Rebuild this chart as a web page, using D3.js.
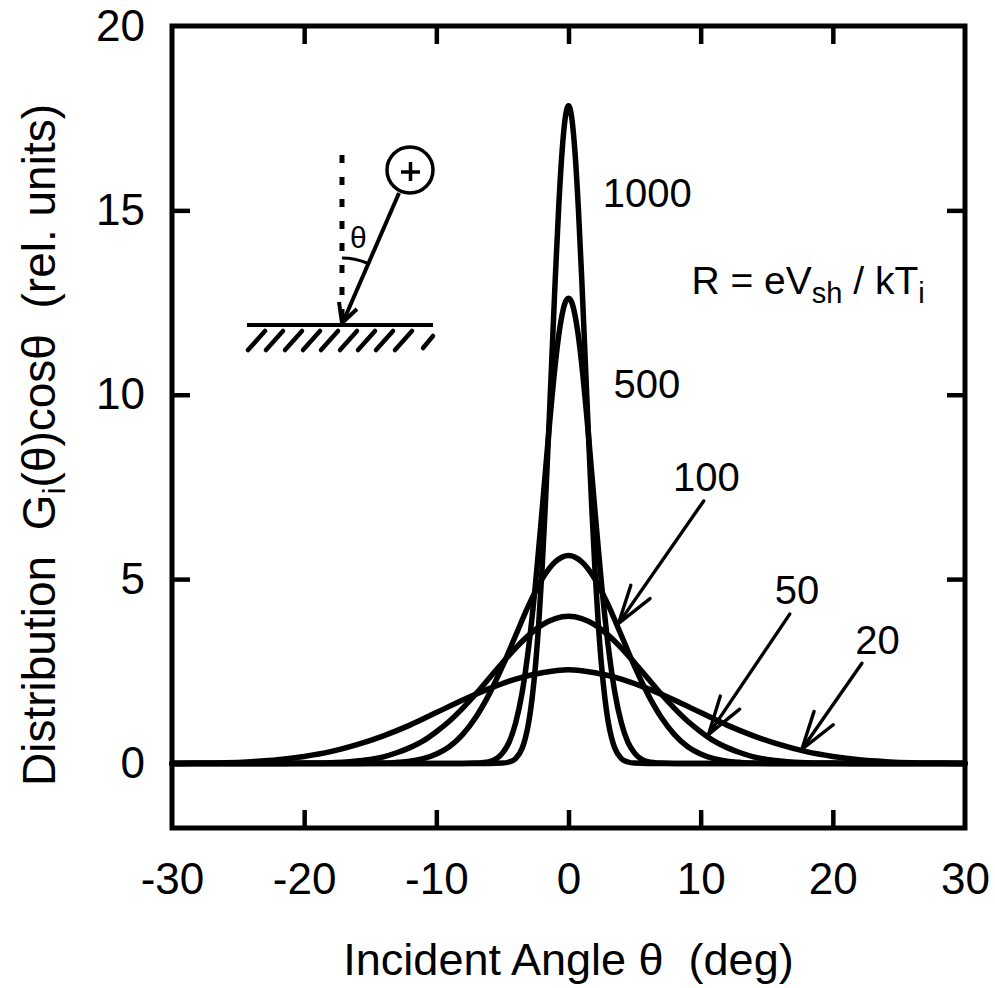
<!DOCTYPE html>
<html>
<head>
<meta charset="utf-8">
<script src="https://cdn.jsdelivr.net/npm/d3@7"></script>
<style>
  html, body { margin: 0; padding: 0; background: #fff; }
  svg { display: block; }
  text { font-family: "Liberation Sans", Arial, Helvetica, sans-serif; fill: #000; }
</style>
</head>
<body>
<div id="chart"></div>
<script>
// ---------------- data ----------------
const xTickValues = [-30, -20, -10, 0, 10, 20, 30];
const yTickValues = [0, 5, 10, 15, 20];

const theta1000 = [-30, -6, -5, -4.5, -4, -3.5, -3.25, -3, -2.75, -2.5, -2.25, -2, -1.75, -1.5, -1.25, -1, -0.75, -0.5, -0.25,
  0, 0.25, 0.5, 0.75, 1, 1.25, 1.5, 1.75, 2, 2.25, 2.5, 2.75, 3, 3.25, 3.5, 4, 4.5, 5, 6, 30];
const g1000 = [0, 0, 0.01, 0.04, 0.13, 0.42, 0.71, 1.14, 1.78, 2.65, 3.81, 5.27, 7.02, 8.99, 11.08, 13.16, 15.03, 16.53, 17.50,
  17.84, 17.50, 16.53, 15.03, 13.16, 11.08, 8.99, 7.02, 5.27, 3.81, 2.65, 1.78, 1.14, 0.71, 0.42, 0.13, 0.04, 0.01, 0, 0];

const theta500 = [-30, -8, -7, -6, -5, -4.5, -4, -3.5, -3, -2.5, -2, -1.5, -1, -0.75, -0.5, -0.25,
  0, 0.25, 0.5, 0.75, 1, 1.5, 2, 2.5, 3, 3.5, 4, 4.5, 5, 6, 7, 8, 30];
const g500 = [0, 0, 0.01, 0.05, 0.28, 0.57, 1.10, 1.94, 3.20, 4.86, 6.86, 8.95, 10.83, 11.58, 12.14, 12.50,
  12.62, 12.50, 12.14, 11.58, 10.83, 8.95, 6.86, 4.86, 3.20, 1.94, 1.10, 0.57, 0.28, 0.05, 0.01, 0, 0];

const theta100 = [-30, -16, -14, -13, -12, -11, -10, -9, -8, -7, -6, -5, -4, -3, -2, -1,
  0, 1, 2, 3, 4, 5, 6, 7, 8, 9, 10, 11, 12, 13, 14, 16, 30];
const g100 = [0, 0, 0.01, 0.03, 0.06, 0.13, 0.26, 0.46, 0.79, 1.26, 1.88, 2.63, 3.47, 4.30, 5.00, 5.47,
  5.64, 5.47, 5.00, 4.30, 3.47, 2.63, 1.88, 1.26, 0.79, 0.46, 0.26, 0.13, 0.06, 0.03, 0.01, 0, 0];

const theta50 = [-30, -22, -20, -18, -16, -15, -14, -13, -12, -11, -10, -9, -8, -7, -6, -5, -4, -3, -2, -1,
  0, 1, 2, 3, 4, 5, 6, 7, 8, 9, 10, 11, 12, 13, 14, 15, 16, 18, 20, 22, 30];
const g50 = [0, 0, 0.01, 0.02, 0.07, 0.11, 0.18, 0.29, 0.43, 0.61, 0.86, 1.15, 1.50, 1.89, 2.31, 2.73, 3.13, 3.48, 3.76, 3.93,
  3.99, 3.93, 3.76, 3.48, 3.13, 2.73, 2.31, 1.89, 1.50, 1.15, 0.86, 0.61, 0.43, 0.29, 0.18, 0.11, 0.07, 0.02, 0.01, 0, 0];

const theta20 = [-30, -28, -26, -24, -22, -20, -18, -16, -14, -12, -10, -8, -6, -4, -2,
  0, 2, 4, 6, 8, 10, 12, 14, 16, 18, 20, 22, 24, 26, 28, 30];
const g20 = [0, 0.01, 0.02, 0.05, 0.10, 0.19, 0.32, 0.51, 0.75, 1.04, 1.38, 1.72, 2.03, 2.29, 2.46,
  2.54, 2.46, 2.29, 2.03, 1.72, 1.38, 1.04, 0.75, 0.51, 0.32, 0.19, 0.10, 0.05, 0.02, 0.01, 0];

// curve labels (R values) and annotation anchors in data units
const curveLabels = ["1000", "500", "100", "50", "20"];
const labelTheta = [2.6, 3.4, 7.9, 15.6, 21.7];
const labelValue = [15.1, 9.92, 7.39, 4.32, 2.96];

const arrowLabels = ["100", "50", "20"];
const arrowFromTheta = [10.23, 16.74, 22.2];
const arrowFromValue = [7.12, 4.05, 2.72];
const arrowToTheta = [3.79, 10.6, 17.65];
const arrowToValue = [3.80, 0.79, 0.38];

// ---------------- chart ----------------
const W = 995, H = 988;
const svg = d3.select("#chart").append("svg").attr("width", W).attr("height", H);

const x = d3.scaleLinear().domain([-30, 30]).range([172, 965]);
const y = d3.scaleLinear().domain([-1.75, 20]).range([828, 26]);

const FS = 44;

function styleAxis(g) {
  g.select(".domain").remove();
  g.selectAll(".tick line").attr("stroke", "#000").attr("stroke-width", 4.5);
  g.selectAll(".tick text").attr("font-size", FS).attr("fill", "#000")
    .attr("font-family", '"Liberation Sans", Arial, Helvetica, sans-serif');
}

// bottom axis (labels + inward ticks)
svg.append("g").attr("transform", "translate(0,828)")
  .call(d3.axisBottom(x).tickValues(xTickValues).tickSize(-18).tickPadding(35).tickFormat(d => String(d)))
  .call(styleAxis)
  .call(g => g.selectAll(".tick").filter(d => d === -30 || d === 30).select("line").remove());
// top axis ticks
svg.append("g").attr("transform", "translate(0,26)")
  .call(d3.axisTop(x).tickValues(xTickValues.slice(1, -1)).tickSize(-18).tickFormat(""))
  .call(styleAxis);
// left axis
svg.append("g").attr("transform", "translate(172,0)")
  .call(d3.axisLeft(y).tickValues(yTickValues).tickSize(-18).tickPadding(27).tickFormat(d => String(d)))
  .call(styleAxis)
  .call(g => g.selectAll(".tick").filter(d => d === 20).select("line").remove());
// right axis ticks
svg.append("g").attr("transform", "translate(965,0)")
  .call(d3.axisRight(y).tickValues(yTickValues.slice(0, -1)).tickSize(-18).tickFormat(""))
  .call(styleAxis);

// frame
svg.append("rect")
  .attr("x", x(-30)).attr("y", y(20))
  .attr("width", x(30) - x(-30)).attr("height", y(-1.75) - y(20))
  .attr("fill", "none").attr("stroke", "#000").attr("stroke-width", 5);

// curves
const series = [
  { t: theta20, g: g20 },
  { t: theta50, g: g50 },
  { t: theta100, g: g100 },
  { t: theta500, g: g500 },
  { t: theta1000, g: g1000 }
];
const line = d3.line().x(d => x(d[0])).y(d => y(d[1])).curve(d3.curveMonotoneX);
series.forEach(s => {
  const pts = s.t.map((t, i) => [t, s.g[i]]);
  svg.append("path").attr("d", line(pts))
    .attr("fill", "none").attr("stroke", "#000").attr("stroke-width", 5.5)
    .attr("stroke-linejoin", "round").attr("stroke-linecap", "round");
});

// curve labels
curveLabels.forEach((lab, i) => {
  svg.append("text").attr("x", x(labelTheta[i])).attr("y", y(labelValue[i]))
    .attr("font-size", 40).text(lab);
});

// R = eV_sh / kT_i
const rt = svg.append("text").attr("x", x(9.3)).attr("y", y(12.74)).attr("font-size", 39)
  .attr("xml:space", "preserve");
rt.append("tspan").text("R = eV");
rt.append("tspan").attr("font-size", 29).attr("dy", 9).text("sh");
rt.append("tspan").attr("dy", -9).text(" / kT");
rt.append("tspan").attr("font-size", 29).attr("dy", 9).text("i");

// arrows
function arrow(x1, y1, x2, y2, len, half, sw) {
  svg.append("line").attr("x1", x1).attr("y1", y1).attr("x2", x2).attr("y2", y2)
    .attr("stroke", "#000").attr("stroke-width", sw).attr("stroke-linecap", "round");
  const a = Math.atan2(y1 - y2, x1 - x2);
  [a - half, a + half].forEach(b => {
    svg.append("line").attr("x1", x2).attr("y1", y2)
      .attr("x2", x2 + len * Math.cos(b)).attr("y2", y2 + len * Math.sin(b))
      .attr("stroke", "#000").attr("stroke-width", sw).attr("stroke-linecap", "round");
  });
}
arrowLabels.forEach((lab, i) => {
  arrow(x(arrowFromTheta[i]), y(arrowFromValue[i]), x(arrowToTheta[i]), y(arrowToValue[i]), 40, 17 * Math.PI / 180, 3.4);
});

// axis titles
svg.append("text").attr("x", (x(-30) + x(30)) / 2).attr("y", 975)
  .attr("text-anchor", "middle").attr("font-size", 45).attr("xml:space", "preserve")
  .text("Incident Angle \u03b8  (deg)");

const yt = svg.append("text").attr("transform", "translate(55,445) rotate(-90)")
  .attr("text-anchor", "middle").attr("font-size", 46).attr("xml:space", "preserve");
yt.append("tspan").text("Distribution  G");
yt.append("tspan").attr("font-size", 32).attr("dy", 10).text("i");
yt.append("tspan").attr("dy", -10).text("(\u03b8)cos\u03b8  (rel. units)");

// inset diagram (incidence geometry)
const ins = svg.append("g");
ins.append("line").attr("x1", 342).attr("y1", 155).attr("x2", 342).attr("y2", 318)
  .attr("stroke", "#000").attr("stroke-width", 5).attr("stroke-dasharray", "8,14");
ins.append("line").attr("x1", 247).attr("y1", 325).attr("x2", 433).attr("y2", 325)
  .attr("stroke", "#000").attr("stroke-width", 4);
const hatchX = [248, 266, 285, 303, 321, 340, 358, 376, 395];
hatchX.forEach(h => {
  ins.append("line").attr("x1", h + 17).attr("y1", 331).attr("x2", h).attr("y2", 350)
    .attr("stroke", "#000").attr("stroke-width", 4.5).attr("stroke-linecap", "round");
});
ins.append("line").attr("x1", 433).attr("y1", 336).attr("x2", 423).attr("y2", 348)
  .attr("stroke", "#000").attr("stroke-width", 4.5).attr("stroke-linecap", "round");
ins.append("circle").attr("cx", 410).attr("cy", 170).attr("r", 23)
  .attr("fill", "none").attr("stroke", "#000").attr("stroke-width", 3.5);
ins.append("line").attr("x1", 401).attr("y1", 172).attr("x2", 420).attr("y2", 172)
  .attr("stroke", "#000").attr("stroke-width", 3.5);
ins.append("line").attr("x1", 410.5).attr("y1", 162).attr("x2", 410.5).attr("y2", 181)
  .attr("stroke", "#000").attr("stroke-width", 3.5);
// incident arrow
ins.append("line").attr("x1", 399).attr("y1", 193).attr("x2", 343).attr("y2", 322)
  .attr("stroke", "#000").attr("stroke-width", 4);
ins.append("path").attr("d", "M339,302 L342,323 L357,309")
  .attr("fill", "none").attr("stroke", "#000").attr("stroke-width", 4).attr("stroke-linejoin", "round");
ins.append("path").attr("d", "M342,258 A65,65 0 0 1 367,263")
  .attr("fill", "none").attr("stroke", "#000").attr("stroke-width", 3);
ins.append("text").attr("x", 350).attr("y", 248).attr("font-size", 30).text("\u03b8");
</script>
</body>
</html>
